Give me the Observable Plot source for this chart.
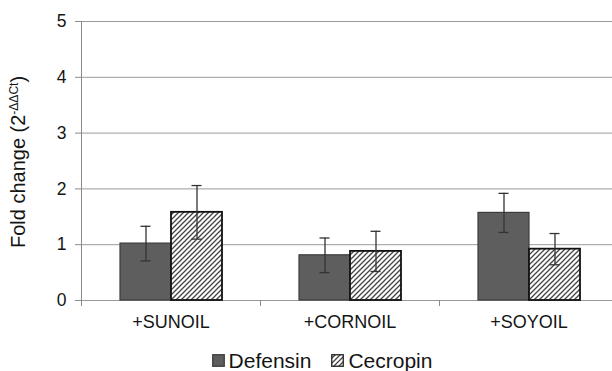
<!DOCTYPE html>
<html><head><meta charset="utf-8">
<script src="https://cdn.jsdelivr.net/npm/d3@7"></script>
<script src="https://cdn.jsdelivr.net/npm/@observablehq/plot@0.6"></script>
<style>
html,body{margin:0;padding:0;background:#fff;overflow:hidden;}
#chart{width:612px;height:371px;position:relative;font-family:"Liberation Sans",Arial,sans-serif;color:#151515;}
#chart svg{display:block;}
.legend{display:flex;justify-content:center;align-items:center;height:35px;padding-top:7px;padding-left:32px;font-size:21px;}
.legend .item{display:flex;align-items:center;margin:0 10px;}
.legend svg{margin-right:4px;}
</style></head><body><div id="chart"></div>
<script>
const categories = ["+SUNOIL", "+CORNOIL", "+SOYOIL"];
const series = ["Defensin", "Cecropin"];
const defensin = [1.02, 0.81, 1.57];
const defensinErr = [0.31, 0.31, 0.35];
const cecropin = [1.58, 0.88, 0.92];
const cecropinErr = [0.48, 0.36, 0.28];
const yTicks = [0, 1, 2, 3, 4, 5];

const rows = [];
categories.forEach((c, i) => {
  rows.push({cat: c, series: series[0], value: defensin[i], err: defensinErr[i]});
  rows.push({cat: c, series: series[1], value: cecropin[i], err: cecropinErr[i]});
});

const plot = Plot.plot({
  width: 612, height: 336,
  marginLeft: 80, marginRight: -7, marginTop: 21, marginBottom: 36,
  style: {fontFamily: "Liberation Sans, Arial, sans-serif", color: "#151515", background: "white"},
  fx: {domain: categories, padding: 0, label: null},
  x: {domain: series, paddingInner: 0, paddingOuter: 0.75, axis: null},
  y: {domain: [0, 5], label: null},
  color: {domain: series, range: ["#5e5e5e", "url(#hatch)"]},
  marks: [
    Plot.gridY({ticks: yTicks, stroke: "#9a9a9a", strokeOpacity: 1}),
    Plot.frame({anchor: "left", facetAnchor: "left", stroke: "#8a8a8a"}),
    Plot.frame({anchor: "left", stroke: "#8a8a8a", insetTop: 279, insetBottom: -5}),
    Plot.axisY({ticks: yTicks, tickFormat: d3.format("d"), tickSize: 6, tickPadding: 9, fontSize: 17.5, stroke: "#8a8a8a", fill: "#151515", label: null}),
    Plot.axisFx({anchor: "bottom", tickSize: 0, tickPadding: 15, fontSize: 18, fill: "#151515", label: null}),
    Plot.barY(rows, {fx: "cat", x: "series", y: "value", fill: "series",
      stroke: d => d.series === series[0] ? "#3c3c3c" : "#111",
      strokeWidth: d => d.series === series[0] ? 1.2 : 1.8}),
    Plot.ruleX(rows, {fx: "cat", x: "series", y1: d => d.value - d.err, y2: d => d.value + d.err, stroke: "#333", strokeWidth: 1.3}),
    Plot.tickY(rows, {fx: "cat", x: "series", y: d => d.value + d.err, insetLeft: 20.5, insetRight: 20.5, stroke: "#333", strokeWidth: 1.3}),
    Plot.tickY(rows, {fx: "cat", x: "series", y: d => d.value - d.err, insetLeft: 20.5, insetRight: 20.5, stroke: "#333", strokeWidth: 1.3})
  ]
});

const svg = d3.select(plot);
svg.insert("defs", ":first-child").html(
  '<pattern id="hatch" patternUnits="userSpaceOnUse" width="5" height="5">' +
  '<rect width="5" height="5" fill="#fff"/>' +
  '<path d="M-1,1 l2,-2 M0,5 l5,-5 M4,6 l2,-2" stroke="#444" stroke-width="1.3"/></pattern>'
);
const lab = svg.append("text")
  .attr("transform", "translate(25,162) rotate(-90)")
  .attr("text-anchor", "middle")
  .attr("font-size", 20)
  .attr("fill", "#151515");
lab.append("tspan").text("Fold change (2");
lab.append("tspan").attr("font-size", 12).attr("dy", -7).text("-ΔΔCt");
lab.append("tspan").attr("dy", 7).text(")");

const chart = document.getElementById("chart");
chart.appendChild(plot);

const legend = d3.select(chart).append("div").attr("class", "legend");
series.forEach((s, i) => {
  const item = legend.append("div").attr("class", "item");
  const sw = item.append("svg").attr("width", 13).attr("height", 13);
  sw.append("rect").attr("x", 0.75).attr("y", 0.75).attr("width", 11.5).attr("height", 11.5)
    .attr("fill", i === 0 ? "#5e5e5e" : "url(#hatch)")
    .attr("stroke", i === 0 ? "#3c3c3c" : "#222").attr("stroke-width", 1.3);
  item.append("span").text(s);
});
</script></body></html>
